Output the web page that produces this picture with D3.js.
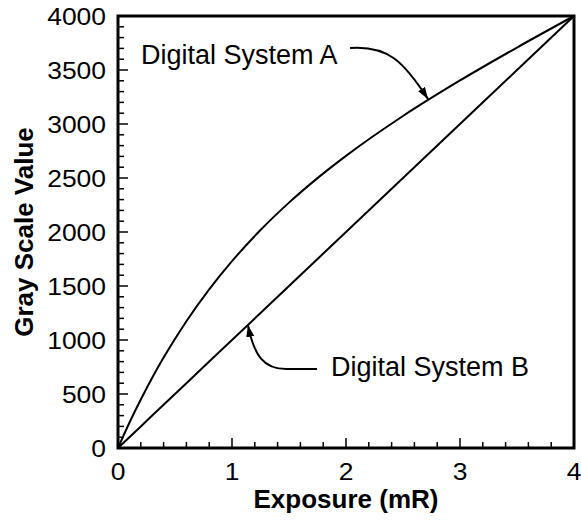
<!DOCTYPE html>
<html>
<head>
<meta charset="utf-8">
<script src="https://cdn.jsdelivr.net/npm/d3@7"></script>
<style>
  body { margin: 0; background: #fff; }
  text { font-family: "Liberation Sans", Arial, sans-serif; fill: #000; }
  .tick-label { font-size: 23px; }
  .axis-title { font-size: 26px; font-weight: bold; }
  .note { font-size: 27px; }
</style>
</head>
<body>
<script>
// exposure values (mR)
var exposure = [0, 0.1, 0.2, 0.3, 0.4, 0.6, 0.8, 1.0, 1.25, 1.5, 1.75, 2.0, 2.5, 3.0, 3.5, 4.0];
// gray scale values for both systems
var systemA = [0, 234, 449, 651, 837, 1174, 1469, 1730, 2018, 2272, 2499, 2705, 3074, 3403, 3708, 4000];
var systemB = [0, 100, 200, 300, 400, 600, 800, 1000, 1250, 1500, 1750, 2000, 2500, 3000, 3500, 4000];

var xTicks = [0, 1, 2, 3, 4];
var yTicks = [0, 500, 1000, 1500, 2000, 2500, 3000, 3500, 4000];

var totalWidth = 581;
var totalHeight = 522;
var margin = {"left": 118, "right": 7, "top": 16, "bottom": 74};

var svg = d3.select("body")
            .append("svg")
            .attr("width", totalWidth)
            .attr("height", totalHeight);

var xScale = d3.scaleLinear()
               .domain([0, 4])
               .range([margin.left, totalWidth - margin.right]);

var yScale = d3.scaleLinear()
               .domain([0, 4000])
               .range([totalHeight - margin.bottom, margin.top]);

var x0 = xScale(0), x1 = xScale(4);
var y0 = yScale(0), y1 = yScale(4000);

// minor and major ticks, pointing into the plot
var xMinor = d3.range(0, 4.001, 0.2).filter(function(d) { return Math.abs(d - Math.round(d)) > 0.01; });
var yMinor = d3.range(0, 4001, 100).filter(function(d) { return d % 500 != 0; });

var ticks = svg.append("g").attr("stroke", "#000").attr("stroke-width", 1.5);

ticks.selectAll(".xminor")
     .data(xMinor).enter().append("line")
     .attr("x1", function(d) { return xScale(d); })
     .attr("x2", function(d) { return xScale(d); })
     .attr("y1", y0).attr("y2", y0 - 6);

ticks.selectAll(".xmajor")
     .data(xTicks).enter().append("line")
     .attr("x1", function(d) { return xScale(d); })
     .attr("x2", function(d) { return xScale(d); })
     .attr("y1", y0).attr("y2", y0 - 10);

ticks.selectAll(".yminor")
     .data(yMinor).enter().append("line")
     .attr("x1", x0).attr("x2", x0 + 6)
     .attr("y1", function(d) { return yScale(d); })
     .attr("y2", function(d) { return yScale(d); });

ticks.selectAll(".ymajor")
     .data(yTicks).enter().append("line")
     .attr("x1", x0).attr("x2", x0 + 10)
     .attr("y1", function(d) { return yScale(d); })
     .attr("y2", function(d) { return yScale(d); });

// tick labels (the original face is a bit wide, so stretch it)
svg.selectAll(".xlab")
   .data(xTicks).enter().append("text")
   .attr("class", "tick-label")
   .attr("transform", function(d) { return "translate(" + xScale(d) + "," + (y0 + 32) + ") scale(1.15,1)"; })
   .attr("text-anchor", "middle")
   .text(function(d) { return d; });

svg.selectAll(".ylab")
   .data(yTicks).enter().append("text")
   .attr("class", "tick-label")
   .attr("transform", function(d) { return "translate(" + (x0 - 12) + "," + yScale(d) + ") scale(1.15,1)"; })
   .attr("dy", "0.4em")
   .attr("text-anchor", "end")
   .text(function(d) { return d; });

// curves
var line = d3.line()
             .x(function(d) { return xScale(d[0]); })
             .y(function(d) { return yScale(d[1]); })
             .curve(d3.curveMonotoneX);

svg.append("path")
   .datum(d3.zip(exposure, systemA))
   .attr("d", line)
   .attr("fill", "none")
   .attr("stroke", "#000")
   .attr("stroke-width", 2);

svg.append("path")
   .datum(d3.zip(exposure, systemB))
   .attr("d", line)
   .attr("fill", "none")
   .attr("stroke", "#000")
   .attr("stroke-width", 2);

// frame
svg.append("rect")
   .attr("x", x0).attr("y", y1)
   .attr("width", x1 - x0).attr("height", y0 - y1)
   .attr("fill", "none")
   .attr("stroke", "#000")
   .attr("stroke-width", 3);

// axis titles
svg.append("text")
   .attr("class", "axis-title")
   .attr("x", (x0 + x1) / 2)
   .attr("y", 508)
   .attr("text-anchor", "middle")
   .text("Exposure (mR)");

svg.append("text")
   .attr("class", "axis-title")
   .attr("transform", "translate(33," + ((y0 + y1) / 2) + ") rotate(-90)")
   .attr("text-anchor", "middle")
   .text("Gray Scale Value");

// arrow head
svg.append("defs").append("marker")
   .attr("id", "head")
   .attr("viewBox", "0 0 12 8")
   .attr("refX", 12).attr("refY", 4)
   .attr("markerWidth", 12).attr("markerHeight", 8)
   .attr("markerUnits", "userSpaceOnUse")
   .attr("orient", "auto")
   .append("path")
   .attr("d", "M0,0L12,4L0,8Z")
   .attr("fill", "#000");

// annotation A
var tipA = [xScale(2.72), yScale(3230)];
svg.append("text")
   .attr("class", "note")
   .attr("x", 141).attr("y", 64)
   .text("Digital System A");
svg.append("path")
   .attr("d", "M350,48C388,45 404,62 " + tipA[0] + "," + tipA[1])
   .attr("fill", "none")
   .attr("stroke", "#000")
   .attr("stroke-width", 2)
   .attr("marker-end", "url(#head)");

// annotation B
var tipB = [xScale(1.14), yScale(1140)];
svg.append("text")
   .attr("class", "note")
   .attr("x", 331).attr("y", 376)
   .text("Digital System B");
svg.append("path")
   .attr("d", "M317,369L286,369C264,369 254,356 " + tipB[0] + "," + tipB[1])
   .attr("fill", "none")
   .attr("stroke", "#000")
   .attr("stroke-width", 2)
   .attr("marker-end", "url(#head)");
</script>
</body>
</html>
